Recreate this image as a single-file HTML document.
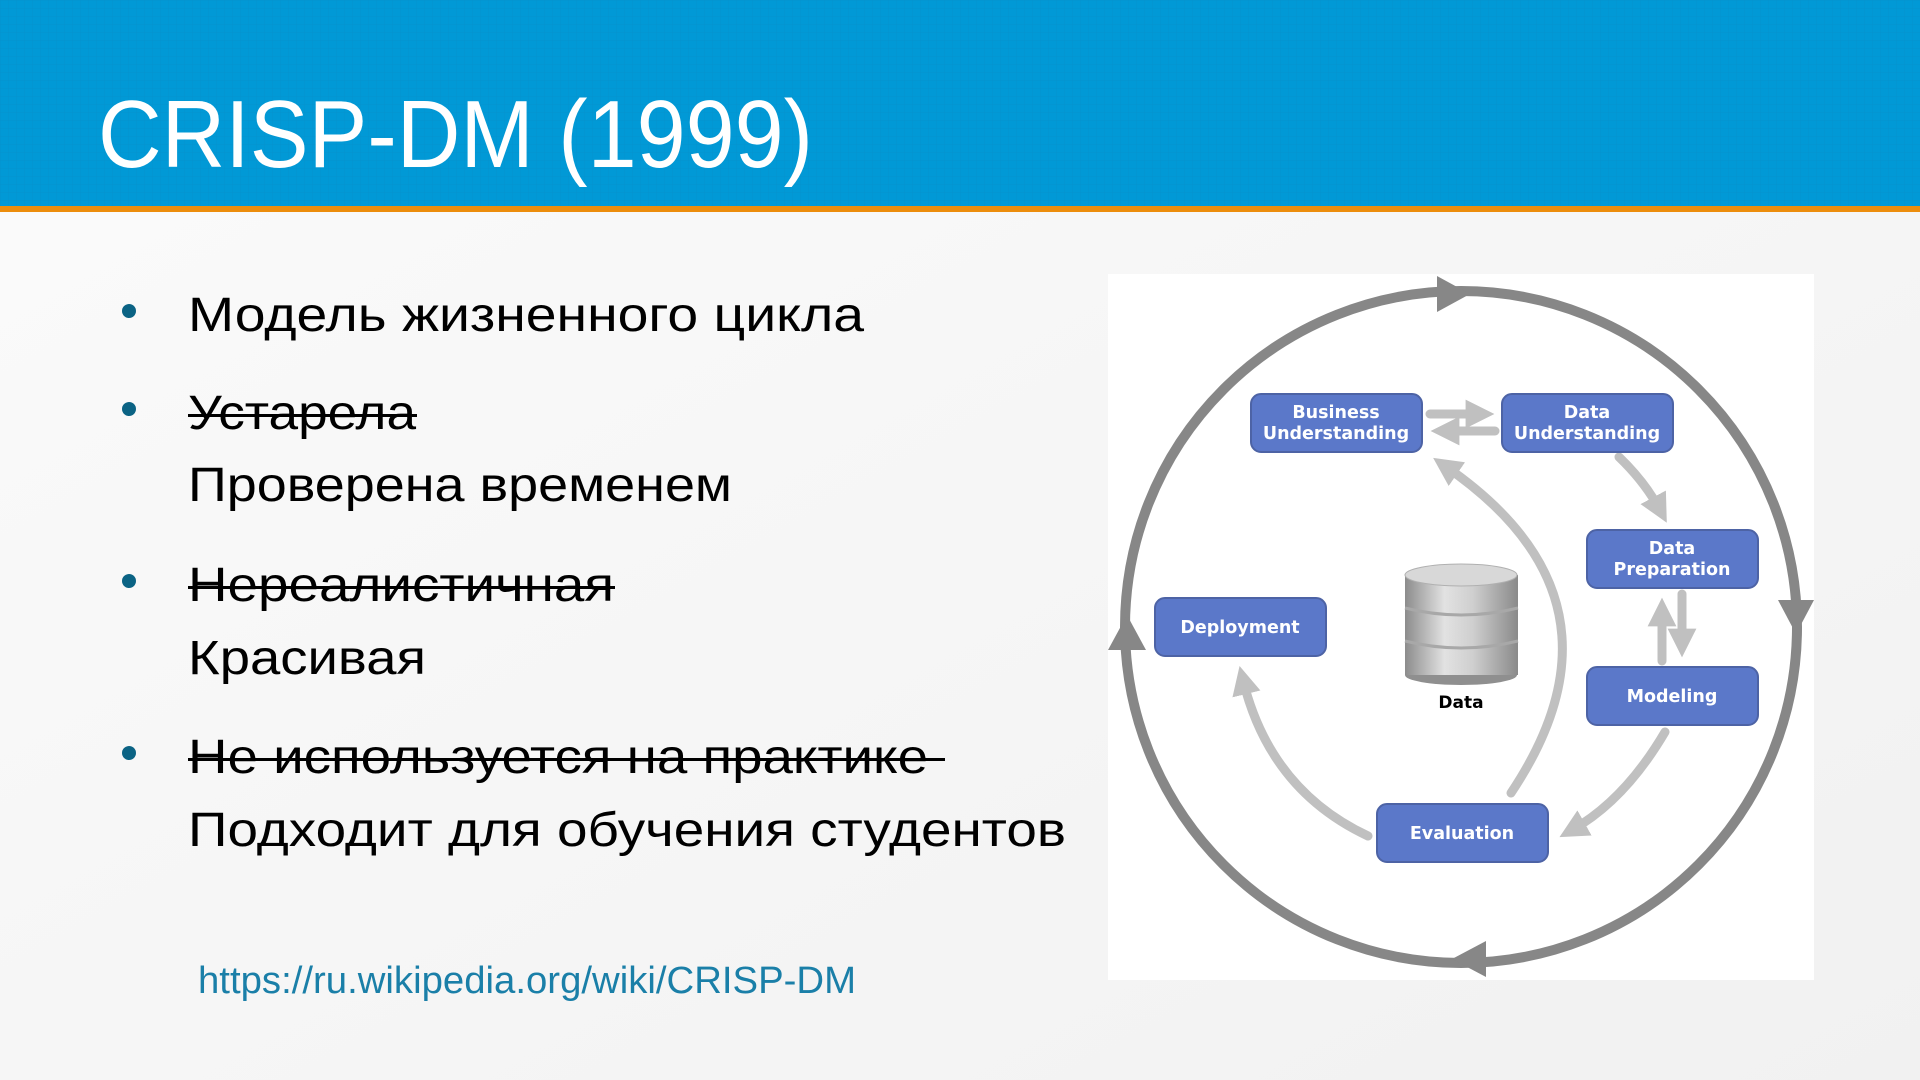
<!DOCTYPE html>
<html><head><meta charset="utf-8"><style>
html,body{margin:0;padding:0;width:1920px;height:1080px;overflow:hidden;background:#f8f8f8}
svg{display:block}
</style></head><body>
<svg width="1920" height="1080" viewBox="0 0 1920 1080" xmlns="http://www.w3.org/2000/svg">
<defs>
<linearGradient id="bg" x1="0" y1="0" x2="1" y2="1"><stop offset="0" stop-color="#fbfbfb"/><stop offset="1" stop-color="#f1f1f1"/></linearGradient>
<linearGradient id="cyl" x1="0" x2="1"><stop offset="0" stop-color="#8c8c8c"/><stop offset="0.35" stop-color="#e2e2e2"/><stop offset="0.6" stop-color="#cfcfcf"/><stop offset="1" stop-color="#8a8a8a"/></linearGradient>
<pattern id="grid" width="8" height="8" patternUnits="userSpaceOnUse"><path d="M8,0 L0,0 0,8" fill="none" stroke="#0a8cc6" stroke-width="1" opacity="0.5"/></pattern>
<marker id="ah" viewBox="0 0 10 10" refX="5" refY="5" markerWidth="3.2" markerHeight="3.2" orient="auto"><path d="M0,0 L10,5 L0,10 z" fill="#c0c0c0"/></marker>
</defs>
<rect width="1920" height="1080" fill="url(#bg)"/>
<rect width="1920" height="206" fill="#0199d6"/>
<rect width="1920" height="206" fill="url(#grid)"/>
<rect y="206" width="1920" height="6" fill="#ec8d0c"/>
<text x="98" y="167" font-family="Liberation Sans, sans-serif" font-size="96" fill="#fff" textLength="715" lengthAdjust="spacingAndGlyphs">CRISP-DM (1999)</text>

<g font-family="Liberation Sans, sans-serif" font-size="48" fill="#000">
<circle cx="129" cy="311" r="7" fill="#0b6384"/>
<circle cx="129" cy="409" r="7" fill="#0b6384"/>
<circle cx="129" cy="581" r="7" fill="#0b6384"/>
<circle cx="129" cy="753" r="7" fill="#0b6384"/>
<text x="188" y="331" textLength="676" lengthAdjust="spacingAndGlyphs">Модель жизненного цикла</text>
<text x="188" y="429" textLength="228" lengthAdjust="spacingAndGlyphs">Устарела</text>
<rect x="188" y="414" width="229" height="3"/>
<text x="188" y="501" textLength="544" lengthAdjust="spacingAndGlyphs">Проверена временем</text>
<text x="188" y="601" textLength="426" lengthAdjust="spacingAndGlyphs">Нереалистичная</text>
<rect x="188" y="586" width="427" height="3"/>
<text x="188" y="674" textLength="238" lengthAdjust="spacingAndGlyphs">Красивая</text>
<text x="188" y="773" textLength="740" lengthAdjust="spacingAndGlyphs">Не используется на практике</text>
<rect x="188" y="758" width="757" height="3"/>
<text x="188" y="846" textLength="878" lengthAdjust="spacingAndGlyphs">Подходит для обучения студентов</text>
</g>
<text x="198" y="993" font-family="Liberation Sans, sans-serif" font-size="38" fill="#1a7fa8" textLength="658" lengthAdjust="spacingAndGlyphs">https://ru.wikipedia.org/wiki/CRISP-DM</text>

<rect x="1108" y="274" width="706" height="706" fill="#fff"/>
<circle cx="1461" cy="627" r="336" fill="none" stroke="#878787" stroke-width="10"/>
<path d="M1437,276 L1470,294 L1437,312 z" fill="#878787"/>
<path d="M1778,600 L1814,600 L1796,634 z" fill="#878787"/>
<path d="M1486,941 L1452,959 L1486,977 z" fill="#878787"/>
<path d="M1108,650 L1146,650 L1127,615 z" fill="#878787"/>

<g fill="none" stroke="#c0c0c0" stroke-width="9" stroke-linecap="round">
<path d="M1430,414 L1480,414" marker-end="url(#ah)"/>
<path d="M1495,431 L1445,431" marker-end="url(#ah)"/>
<path d="M1619,457 Q1645,482 1660,510" marker-end="url(#ah)"/>
<path d="M1662,661 L1662,612" marker-end="url(#ah)"/>
<path d="M1682,594 L1682,643" marker-end="url(#ah)"/>
<path d="M1665,732 Q1625,800 1572,830" marker-end="url(#ah)"/>
<path d="M1511,793 Q1640,600 1445,466" marker-end="url(#ah)"/>
<path d="M1368,836 Q1270,790 1243,680" marker-end="url(#ah)"/>
</g>

<g font-family="DejaVu Sans, Verdana, sans-serif" font-weight="bold" font-size="17.5" fill="#fff" text-anchor="middle">
<rect x="1251" y="394" width="171" height="58" rx="10" fill="#5b78c9" stroke="#4d63a5" stroke-width="2"/>
<text x="1336" y="418">Business</text><text x="1336" y="439">Understanding</text>
<rect x="1502" y="394" width="171" height="58" rx="10" fill="#5b78c9" stroke="#4d63a5" stroke-width="2"/>
<text x="1587" y="418">Data</text><text x="1587" y="439">Understanding</text>
<rect x="1587" y="530" width="171" height="58" rx="10" fill="#5b78c9" stroke="#4d63a5" stroke-width="2"/>
<text x="1672" y="554">Data</text><text x="1672" y="575">Preparation</text>
<rect x="1587" y="667" width="171" height="58" rx="10" fill="#5b78c9" stroke="#4d63a5" stroke-width="2"/>
<text x="1672" y="702">Modeling</text>
<rect x="1155" y="598" width="171" height="58" rx="10" fill="#5b78c9" stroke="#4d63a5" stroke-width="2"/>
<text x="1240" y="633">Deployment</text>
<rect x="1377" y="804" width="171" height="58" rx="10" fill="#5b78c9" stroke="#4d63a5" stroke-width="2"/>
<text x="1462" y="839">Evaluation</text>
</g>

<g>
<ellipse cx="1461" cy="675" rx="56" ry="10" fill="#8f8f8f"/>
<rect x="1405" y="575" width="113" height="100" fill="url(#cyl)"/>
<path d="M1405,608 Q1461,622 1518,608 M1405,641 Q1461,655 1518,641" stroke="#a8a8a8" stroke-width="3" fill="none"/>
<ellipse cx="1461" cy="575" rx="56" ry="11" fill="#d8d8d8" stroke="#b0b0b0"/>
<text x="1461" y="708" font-family="DejaVu Sans, Verdana, sans-serif" font-weight="bold" font-size="17" fill="#000" text-anchor="middle">Data</text>
</g>
</svg>
</body></html>
